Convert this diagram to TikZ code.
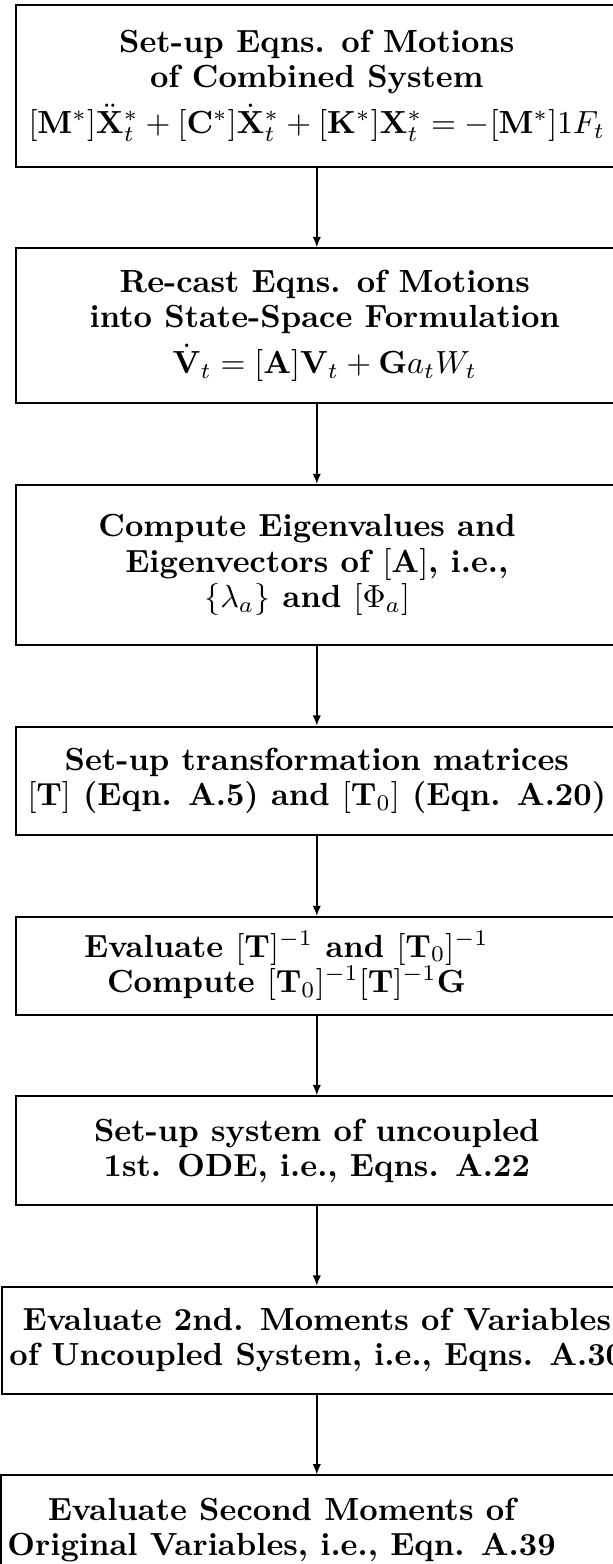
\documentclass[tikz,border=0pt]{standalone}
\usepackage{amsmath}
\usepackage{tikz}
\usetikzlibrary{arrows.meta,positioning}
\tikzset{
    block/.style={
        rectangle,
        draw,
        line width=0.6pt,
        align=center,
        minimum width=188pt,
        inner sep=2pt,
        font=\fontsize{10}{11}\selectfont\bfseries
    },
    flow/.style={line width=0.45pt, -{Latex[length=3.2pt,width=2.6pt]}}
}

\begin{document}
\begin{tikzpicture}[node distance=24.9pt]
    \useasboundingbox (0,0) rectangle (191.25pt,-488.75pt);
    \node (setup) [block, minimum height=50.5pt] at (99pt,-26.8pt)
        {Set-up Eqns. of Motions\\ of Combined System\\[2pt]
         $[\mathbf{M}^*]\ddot{\mathbf{X}}^*_t+[\mathbf{C}^*]\dot{\mathbf{X}}^*_t+[\mathbf{K}^*]\mathbf{X}^*_t=-[\mathbf{M}^*]1F_t$};
    \node (recast) [block, minimum height=48.5pt, below=of setup]
        {\hspace*{5pt}Re-cast Eqns. of Motions\\ \hspace*{5pt}into State-Space Formulation\\[2pt]
         \hspace*{5pt}$\dot{\mathbf{V}}_t=[\mathbf{A}]\mathbf{V}_t+\mathbf{G}a_tW_t$};
    \node (eigen) [block, minimum height=50pt, below=of recast]
        {Compute Eigenvalues and\hspace*{6pt}\\ Eigenvectors of $[\mathbf{A}]$, i.e.,\hspace*{6pt}\\
         $\{\lambda_a\}$ and $[\Phi_a]$\hspace*{6pt}};
    \node (transf) [block, minimum height=34pt, below=of eigen]
        {Set-up transformation matrices\\
         $[\mathbf{T}]$ (Eqn. A.5) and $[\mathbf{T}_0]$ (Eqn. A.20)};
    \node (inverse) [block, minimum height=30.5pt, below=of transf]
        {Evaluate $[\mathbf{T}]^{-1}$ and $[\mathbf{T}_0]^{-1}$\hspace*{19pt}\\
         Compute $[\mathbf{T}_0]^{-1}[\mathbf{T}]^{-1}\mathbf{G}$\hspace*{19pt}};
    \node (uncoupled) [block, minimum height=34pt, below=of inverse]
        {Set-up system of uncoupled\\ 1st. ODE, i.e., Eqns. A.22};
    \node (moments) [block, minimum height=33.5pt, minimum width=197pt, below=of uncoupled]
        {Evaluate 2nd. Moments of Variables\\ of Uncoupled System, i.e., Eqns. A.30};
    \node (original) [block, minimum height=34pt, below=of moments]
        {Evaluate Second Moments of\hspace*{22pt}\\ Original Variables, i.e., Eqn. A.39\hspace*{22pt}};

    \draw [flow] (setup) -- (recast);
    \draw [flow] (recast) -- (eigen);
    \draw [flow] (eigen) -- (transf);
    \draw [flow] (transf) -- (inverse);
    \draw [flow] (inverse) -- (uncoupled);
    \draw [flow] (uncoupled) -- (moments);
    \draw [flow] (moments) -- (original);
\end{tikzpicture}
\end{document}
